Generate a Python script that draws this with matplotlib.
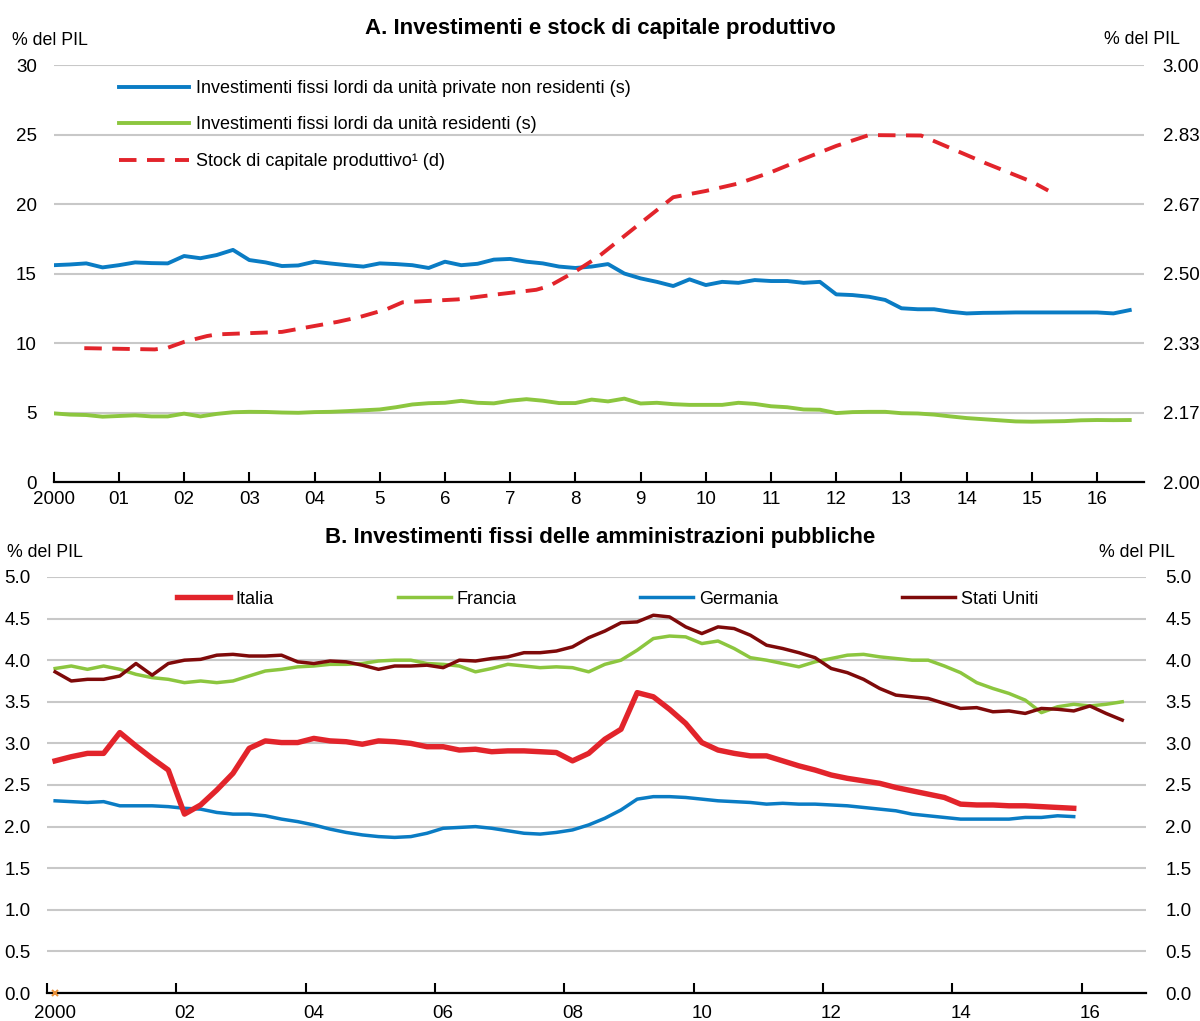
import matplotlib
matplotlib.use('Agg')
import matplotlib.pyplot as plt
import numpy as np

plt.rcParams['font.family'] = ['Liberation Sans', 'DejaVu Sans']

# ---- Pannello A: dati trimestrali dal 2000T1 ----
inv_non_res = [15.6, 15.65, 15.73, 15.44, 15.6, 15.8, 15.75, 15.73,
               16.26, 16.1, 16.33, 16.7, 15.97, 15.8, 15.54, 15.58,
               15.85, 15.72, 15.6, 15.5, 15.73, 15.68, 15.6, 15.4,
               15.85, 15.6, 15.7, 16.0, 16.05, 15.85, 15.73, 15.5,
               15.4, 15.5, 15.68, 15.0, 14.65, 14.4, 14.1, 14.58,
               14.17, 14.4, 14.33, 14.53, 14.46, 14.46, 14.33, 14.4,
               13.5, 13.45, 13.33, 13.1, 12.5, 12.43, 12.43, 12.25,
               12.13, 12.17, 12.18, 12.2, 12.2, 12.2, 12.2, 12.2,
               12.2, 12.13, 12.37]
inv_res = [4.94, 4.85, 4.82, 4.70, 4.75, 4.80, 4.72, 4.72,
           4.92, 4.72, 4.90, 5.02, 5.05, 5.04, 5.00, 4.98,
           5.03, 5.05, 5.10, 5.16, 5.22, 5.38, 5.58, 5.67,
           5.70, 5.84, 5.70, 5.66, 5.85, 5.96, 5.85, 5.68,
           5.68, 5.93, 5.80, 6.00, 5.65, 5.70, 5.60, 5.55,
           5.55, 5.55, 5.70, 5.62, 5.45, 5.38, 5.22, 5.20,
           4.96, 5.03, 5.05, 5.05, 4.95, 4.93, 4.85, 4.72,
           4.60, 4.52, 4.44, 4.36, 4.34, 4.36, 4.38, 4.44,
           4.46, 4.45, 4.46]
anni_stock = [2000.47, 2001.55, 2001.75, 2002.0, 2002.35, 2002.5, 2003.5, 2003.85,
              2004.35, 2004.7, 2005.1, 2005.35, 2006.2, 2006.8, 2007.4, 2007.6,
              2008.0, 2008.35, 2009.0, 2009.5, 2010.0, 2010.5, 2011.0, 2011.5,
              2012.0, 2012.5, 2013.3, 2014.3, 2015.0, 2015.25]
stock_cap = [2.321, 2.318, 2.322, 2.336, 2.350, 2.354, 2.360, 2.370,
             2.384, 2.396, 2.414, 2.431, 2.438, 2.450, 2.461, 2.470,
             2.505, 2.540, 2.621, 2.683, 2.698, 2.716, 2.743, 2.775,
             2.806, 2.832, 2.831, 2.764, 2.720, 2.699]
etichette_a = ['2000', '01', '02', '03', '04', '5', '6', '7', '8', '9',
               '10', '11', '12', '13', '14', '15', '16']

# ---- Pannello B: dati trimestrali dal 2000T1 ----
italia = [2.79, 2.84, 2.88, 2.88, 3.13, 2.97, 2.82, 2.68,
          2.15, 2.26, 2.44, 2.64, 2.94, 3.03, 3.01, 3.01,
          3.06, 3.03, 3.02, 2.99, 3.03, 3.02, 3.00, 2.96,
          2.96, 2.92, 2.93, 2.90, 2.91, 2.91, 2.90, 2.89,
          2.79, 2.88, 3.05, 3.17, 3.61, 3.56, 3.41, 3.24,
          3.01, 2.92, 2.88, 2.85, 2.85, 2.79, 2.73, 2.68,
          2.62, 2.58, 2.55, 2.52, 2.47, 2.43, 2.39, 2.35,
          2.27, 2.26, 2.26, 2.25, 2.25, 2.24, 2.23, 2.22]
francia = [3.90, 3.93, 3.89, 3.93, 3.89, 3.83, 3.79, 3.77,
           3.73, 3.75, 3.73, 3.75, 3.81, 3.87, 3.89, 3.92,
           3.93, 3.95, 3.95, 3.96, 3.99, 4.00, 4.00, 3.96,
           3.95, 3.93, 3.86, 3.90, 3.95, 3.93, 3.91, 3.92,
           3.91, 3.86, 3.95, 4.00, 4.12, 4.26, 4.29, 4.28,
           4.20, 4.23, 4.14, 4.03, 4.00, 3.96, 3.92, 3.98,
           4.02, 4.06, 4.07, 4.04, 4.02, 4.00, 4.00, 3.93,
           3.85, 3.73, 3.66, 3.60, 3.52, 3.37, 3.44, 3.47,
           3.45, 3.47, 3.50]
germania = [2.31, 2.30, 2.29, 2.30, 2.25, 2.25, 2.25, 2.24,
            2.22, 2.21, 2.17, 2.15, 2.15, 2.13, 2.09, 2.06,
            2.02, 1.97, 1.93, 1.90, 1.88, 1.87, 1.88, 1.92,
            1.98, 1.99, 2.00, 1.98, 1.95, 1.92, 1.91, 1.93,
            1.96, 2.02, 2.10, 2.20, 2.33, 2.36, 2.36, 2.35,
            2.33, 2.31, 2.30, 2.29, 2.27, 2.28, 2.27, 2.27,
            2.26, 2.25, 2.23, 2.21, 2.19, 2.15, 2.13, 2.11,
            2.09, 2.09, 2.09, 2.09, 2.11, 2.11, 2.13, 2.12]
usa = [3.86, 3.75, 3.77, 3.77, 3.81, 3.96, 3.82, 3.96,
       4.00, 4.01, 4.06, 4.07, 4.05, 4.05, 4.06, 3.98,
       3.96, 3.99, 3.98, 3.94, 3.89, 3.93, 3.93, 3.94,
       3.91, 4.00, 3.99, 4.02, 4.04, 4.09, 4.09, 4.11,
       4.16, 4.27, 4.35, 4.45, 4.46, 4.54, 4.52, 4.40,
       4.32, 4.40, 4.38, 4.30, 4.18, 4.14, 4.09, 4.03,
       3.90, 3.85, 3.77, 3.66, 3.58, 3.56, 3.54, 3.48,
       3.42, 3.43, 3.38, 3.39, 3.36, 3.42, 3.41, 3.39,
       3.45, 3.36, 3.28]
etichette_b = ['2000', '02', '04', '06', '08', '10', '12', '14', '16']

BLU = '#0a7cc4'
VERDE = '#8cc63f'
ROSSO = '#e2242b'
BORDEAUX = '#7f0a0a'
GRIGIO = '#c8c8c8'
FS = 13.5
FL = 13


def trimestri(serie):
    return 2000 + np.arange(len(serie)) / 4.0


def stile_assi(ax):
    for s in ['top', 'left', 'right']:
        ax.spines[s].set_visible(False)
    ax.spines['bottom'].set_linewidth(1.6)
    ax.spines['bottom'].set_zorder(5)
    ax.yaxis.grid(True, color=GRIGIO, linewidth=1.5)
    ax.set_axisbelow(True)
    ax.tick_params(axis='y', length=0, labelsize=FS, pad=12)


fig = plt.figure(figsize=(12, 10.21), dpi=100)

# ================= Pannello A =================
ax1 = fig.add_axes([0.0447, 0.5279, 0.9087, 0.4084])
stile_assi(ax1)
l1, = ax1.plot(trimestri(inv_non_res), inv_non_res, color=BLU, lw=2.8,
               label='Investimenti fissi lordi da unità private non residenti (s)')
l2, = ax1.plot(trimestri(inv_res), inv_res, color=VERDE, lw=2.8,
               label='Investimenti fissi lordi da unità residenti (s)')
ax1.set_ylim(0, 30)
ax1.set_yticks(np.arange(0, 31, 5))
ax1.set_xlim(2000, 2016.72)
ax1.set_xticks(np.arange(2000, 2017))
ax1.set_xticklabels(etichette_a)
ax1.tick_params(axis='x', direction='in', length=7, width=1.5, labelsize=FS, pad=6.5)

ax1r = ax1.twinx()
for s in ['top', 'left', 'right', 'bottom']:
    ax1r.spines[s].set_visible(False)
l3, = ax1r.plot(anni_stock, stock_cap, color=ROSSO, lw=2.8, dashes=(4.5, 2.7),
                label='Stock di capitale produttivo¹ (d)')
ax1r.set_ylim(2, 3)
ax1r.set_yticks([2 + k / 6.0 for k in range(7)])
ax1r.set_yticklabels(['%.2f' % (2 + k / 6.0) for k in range(7)])
ax1r.tick_params(axis='y', length=0, labelsize=FS, pad=13.5)

fig.legend(handles=[l1, l2, l3], loc='upper left', bbox_to_anchor=(0.099, 0.9217),
           frameon=False, fontsize=FL, handlelength=3.88, handletextpad=0.39,
           labelspacing=1.08, borderpad=0, borderaxespad=0)

fig.text(0.5, 0.972, 'A. Investimenti e stock di capitale produttivo',
         ha='center', va='center', fontsize=16, fontweight='bold')
fig.text(0.010, 0.9608, '% del PIL', ha='left', va='center', fontsize=12.8)
fig.text(0.983, 0.9618, '% del PIL', ha='right', va='center', fontsize=12.8)

# ================= Pannello B =================
ax2 = fig.add_axes([0.0392, 0.0274, 0.9162, 0.4075])
stile_assi(ax2)
b1, = ax2.plot(trimestri(italia), italia, color=ROSSO, lw=3.9, label='Italia', zorder=4)
b2, = ax2.plot(trimestri(francia), francia, color=VERDE, lw=2.5, label='Francia', zorder=3)
b3, = ax2.plot(trimestri(germania), germania, color=BLU, lw=2.5, label='Germania', zorder=3)
b4, = ax2.plot(trimestri(usa), usa, color=BORDEAUX, lw=2.5, label='Stati Uniti', zorder=3)
ax2.plot([2000], [0], marker='x', color='#e8913a', ms=4, mew=1.5, clip_on=False, zorder=6)
ax2.set_ylim(0, 5)
ax2.set_yticks(np.arange(0, 5.01, 0.5))
ax2.set_yticklabels(['%.1f' % v for v in np.arange(0, 5.01, 0.5)])
ax2.set_xlim(1999.875, 2016.875)
ax2.set_xticks(np.arange(2000, 2017, 2))
ax2.set_xticklabels(etichette_b)
ax2.set_xticks(np.arange(1999.875, 2016, 2), minor=True)
ax2.tick_params(axis='x', which='major', length=0, labelsize=FS, pad=8.5)
ax2.tick_params(axis='x', which='minor', direction='in', length=7, width=1.5)

ax2r = ax2.twinx()
for s in ['top', 'left', 'right', 'bottom']:
    ax2r.spines[s].set_visible(False)
ax2r.set_ylim(0, 5)
ax2r.set_yticks(np.arange(0, 5.01, 0.5))
ax2r.set_yticklabels(['%.1f' % v for v in np.arange(0, 5.01, 0.5)])
ax2r.tick_params(axis='y', length=0, labelsize=FS, pad=13.5)

fig.legend(handles=[b1, b2, b3, b4], loc='upper left', bbox_to_anchor=(0.1475, 0.4216),
           ncol=4, frameon=False, fontsize=FL, handlelength=2.93, handletextpad=0.33,
           columnspacing=6.85, borderpad=0, borderaxespad=0)

fig.text(0.5, 0.474, 'B. Investimenti fissi delle amministrazioni pubbliche',
         ha='center', va='center', fontsize=16, fontweight='bold')
fig.text(0.006, 0.4584, '% del PIL', ha='left', va='center', fontsize=12.8)
fig.text(0.979, 0.4584, '% del PIL', ha='right', va='center', fontsize=12.8)

plt.savefig('out.png', dpi=100)
